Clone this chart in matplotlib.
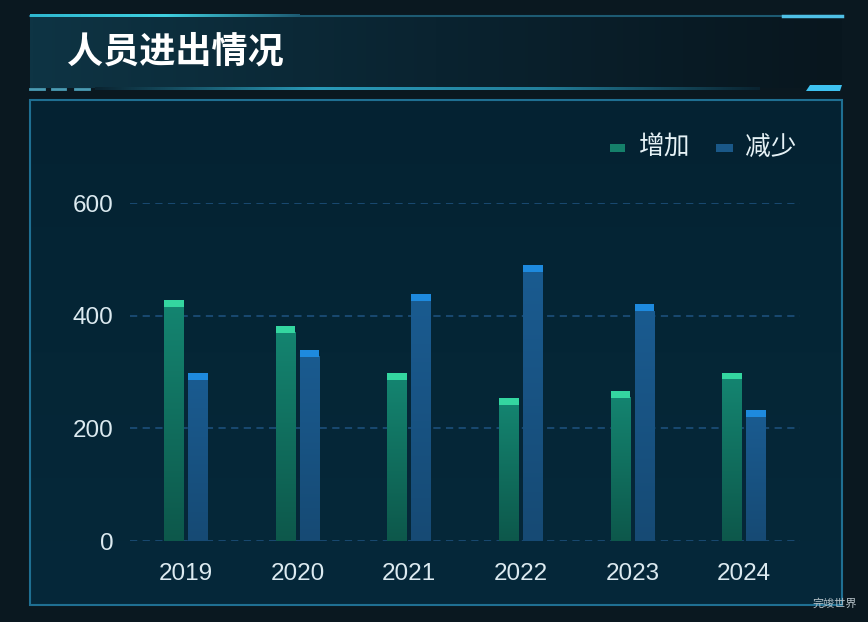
import numpy as np
import matplotlib.pyplot as plt
from matplotlib.patches import Rectangle, Polygon
from matplotlib.colors import LinearSegmentedColormap

# chart data
years = ["2019", "2020", "2021", "2022", "2023", "2024"]
increase = [427, 382, 298, 254, 266, 299]
decrease = [298, 339, 438, 490, 420, 232]
yticks = [0, 200, 400, 600]

title = "人员进出情况"
legend_labels = ["增加", "减少"]
watermark = "完竣世界"

plt.rcParams['font.family'] = ['Noto Sans CJK SC', 'DejaVu Sans']

fig = plt.figure(figsize=(8.68, 6.22), dpi=100)
fig.patch.set_facecolor("#0a1820")

# background decorations in pixel coordinates
bg = fig.add_axes([0, 0, 1, 1], zorder=0)
bg.set_xlim(0, 868)
bg.set_ylim(622, 0)
bg.axis("off")

# title bar gradient
grad = np.linspace(0, 1, 256).reshape(1, -1)
title_cmap = LinearSegmentedColormap.from_list("t", ["#0e3444", "#0a2330", "#08161e"])
bg.imshow(grad, extent=(30, 842, 88, 16), cmap=title_cmap, aspect="auto", zorder=1)
# top line of title bar
bg.plot([30, 842], [15.5, 15.5], color="#1d5a72", lw=1.5, zorder=2)
glow = LinearSegmentedColormap.from_list("g", ["#2fb8d0", "#3fd0e0", "#1d5a72"])
bg.imshow(grad, extent=(30, 300, 17, 14), cmap=glow, aspect="auto", zorder=3)
bg.plot([783, 842], [15.5, 15.5], color="#4fc0e6", lw=2.5, zorder=3)
# bottom line of title bar
for x0, x1 in [(30, 44), (52, 65), (75, 89)]:
    bg.plot([x0, x1], [89, 89], color="#4a9cb4", lw=2, zorder=3)
line_cmap = LinearSegmentedColormap.from_list("l", ["#0a2330", "#2a9ab8", "#23809c", "#0a2330"])
bg.imshow(grad, extent=(95, 760, 90.5, 87.5), cmap=line_cmap, aspect="auto", zorder=3)
bg.add_patch(Polygon([[810, 85], [842, 85], [840, 91], [806, 91]], closed=True,
                     facecolor="#3ec2f0", edgecolor="none", zorder=3))
bg.text(67, 52, title, color="white", fontsize=26, fontweight="heavy",
        va="center", ha="left", zorder=4)

# panel
panel_cmap = LinearSegmentedColormap.from_list("p", ["#042232", "#052636", "#06283a"])
bg.imshow(np.linspace(0, 1, 256).reshape(-1, 1), extent=(30, 842, 605, 100),
          cmap=panel_cmap, aspect="auto", zorder=1)
bg.add_patch(Rectangle((30, 100), 812, 505, facecolor="none",
                       edgecolor="#1f6f92", lw=1.5, zorder=2))
bg.text(857, 604, watermark, color="#b8c4ca", fontsize=8, ha="right", va="center", zorder=4)

# legend
bg.add_patch(Rectangle((610, 144), 15, 8, facecolor="#15806a", edgecolor="none", zorder=4))
bg.text(639, 148, legend_labels[0], color="#e6f2f6", fontsize=18.5, va="center", zorder=4)
bg.add_patch(Rectangle((716, 144), 17, 8, facecolor="#1a5888", edgecolor="none", zorder=4))
bg.text(745, 148, legend_labels[1], color="#e6f2f6", fontsize=18.5, va="center", zorder=4)

# chart axes
ax = fig.add_axes([130 / 868, 81 / 622, 670 / 868, 338 / 622], zorder=2)
ax.set_facecolor("none")
x = np.arange(len(years))
width = 0.178
gap = 0.036
cap = 12

green_cmap = LinearSegmentedColormap.from_list("gb", ["#0d584b", "#148470"])
blue_cmap = LinearSegmentedColormap.from_list("bb", ["#164a74", "#1a5b90"])
vgrad = np.linspace(0, 1, 128).reshape(-1, 1)

for xi, inc, dec in zip(x, increase, decrease):
    xl = xi - gap / 2 - width
    ax.imshow(vgrad, extent=(xl, xl + width, 0, inc - cap), origin="lower",
              cmap=green_cmap, aspect="auto", zorder=3)
    xr = xi + gap / 2
    ax.imshow(vgrad, extent=(xr, xr + width, 0, dec - cap), origin="lower",
              cmap=blue_cmap, aspect="auto", zorder=3)

ax.bar(x - gap / 2 - width / 2, [cap] * len(x), width, bottom=np.array(increase) - cap,
       color="#34d6a0", zorder=4)
ax.bar(x + gap / 2 + width / 2, [cap] * len(x), width, bottom=np.array(decrease) - cap,
       color="#1e8ade", zorder=4)

ax.set_xlim(-0.5, len(years) - 0.5)
ax.set_ylim(0, 600)
ax.set_xticks(x)
ax.set_xticklabels(years)
ax.set_yticks(yticks)
ax.set_yticklabels([str(v) for v in yticks])
for lab in ax.get_xticklabels() + ax.get_yticklabels():
    lab.set_fontfamily("Liberation Sans")
    lab.set_fontsize(17.5)
    lab.set_color("#dceaf0")
ax.tick_params(axis="both", length=0)
ax.tick_params(axis="y", pad=12)
ax.tick_params(axis="x", pad=16)
for s in ax.spines.values():
    s.set_visible(False)
ax.yaxis.grid(True, color="#1b4c76", linestyle=(0, (4, 3)), lw=1.3, zorder=1)
ax.set_axisbelow(True)

fig.savefig("out.png", dpi=100, facecolor=fig.get_facecolor())
